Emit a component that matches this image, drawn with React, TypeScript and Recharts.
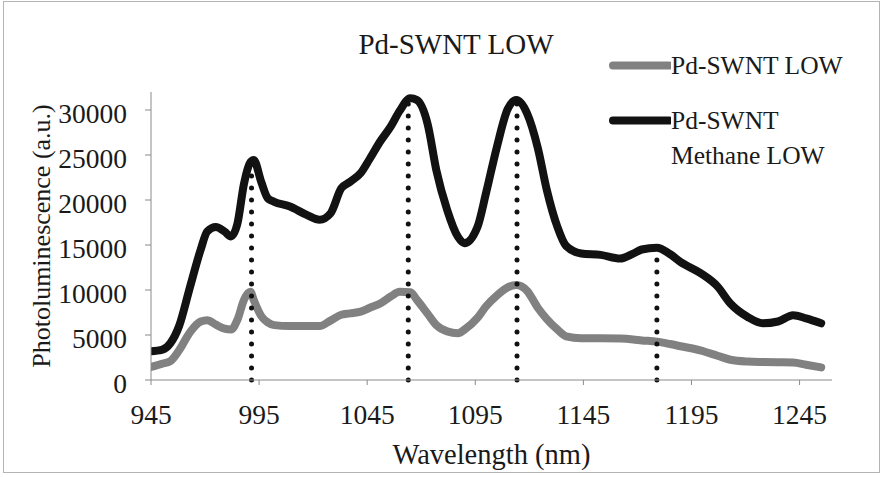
import React from "react";
import {
  LineChart,
  Line,
  XAxis,
  YAxis,
  ReferenceLine,
  Legend,
} from "recharts";

// Wavelength samples (nm) shared by both spectra
const wavelengths = [
  945, 950, 954, 958, 963, 968, 971, 975, 979, 982, 985, 988, 991, 992.5, 996,
  999, 1002, 1009, 1017, 1023, 1028, 1033, 1037, 1042, 1046, 1051, 1056, 1060,
  1065, 1068, 1073, 1077, 1082, 1087, 1090, 1096, 1100, 1105, 1110, 1114, 1119,
  1124, 1128, 1133, 1137, 1144, 1153, 1162, 1168, 1172, 1179, 1185, 1190, 1199,
  1207, 1213, 1221, 1228, 1235, 1242, 1248, 1255,
];

// Pd-SWNT LOW (grey)
const lowValues = [
  1450, 1800, 2100, 3300, 5300, 6500, 6650, 6150, 5700, 5600, 6700, 8900, 9800,
  8900, 7100, 6400, 6100, 6000, 6000, 6000, 6600, 7250, 7400, 7600, 8000, 8500,
  9300, 9800, 9750, 8900, 7350, 6100, 5400, 5200, 5600, 6900, 8200, 9400, 10300,
  10550, 9900, 8000, 6800, 5600, 4850, 4650, 4650, 4600, 4500, 4400, 4260, 4000,
  3750, 3300, 2700, 2250, 2050, 2000, 1980, 1950, 1700, 1400,
];

// Pd-SWNT Methane LOW (black)
const methaneValues = [
  3200, 3350, 4100, 6000, 10300, 14500, 16500, 17000, 16500, 15950, 17400,
  21800, 24200, 24450, 22000, 20200, 19800, 19300, 18350, 17800, 18500, 21300,
  22000, 23000, 24500, 26500, 28200, 29900, 31300, 31100, 28400, 23300, 18900,
  15900, 15200, 17000, 20800, 25900, 30100, 31100, 29600, 25700, 21200, 17000,
  14900, 14050, 13900, 13500, 14050, 14500, 14700, 14000, 13100, 11900, 10400,
  8500, 7000, 6300, 6500, 7200, 6850, 6300,
];

const xTicks = [945, 995, 1045, 1095, 1145, 1195, 1245];
const yTicks = [0, 5000, 10000, 15000, 20000, 25000, 30000];

// dotted drop lines: peak position and how high they reach
const dropX = [991.5, 1064, 1114.3, 1179];
const dropTop = [24300, 31000, 31000, 14200];

const seriesNames = ["Pd-SWNT LOW", "Pd-SWNT Methane LOW"];

const FONT = "'Liberation Serif', 'Times New Roman', serif";

const data = wavelengths.map((nm, i) => ({
  nm,
  low: lowValues[i],
  methane: methaneValues[i],
}));

function LegendBox(props: any) {
  const items = props.payload || [];
  return (
    <div style={{ fontFamily: FONT, fontSize: 25.5, color: "#1a1a1a" }}>
      {items.map((item: any, i: number) => (
        <div
          key={i}
          style={{
            display: "flex",
            alignItems: "flex-start",
            marginBottom: i === 0 ? 20 : 0,
          }}
        >
          <svg width={62} height={35} style={{ flex: "none" }}>
            <line
              x1={4}
              y1={17.5}
              x2={60}
              y2={17.5}
              stroke={item.color}
              strokeWidth={8}
              strokeLinecap="round"
            />
          </svg>
          <span style={{ lineHeight: "35px", width: 185 }}>{item.value}</span>
        </div>
      ))}
    </div>
  );
}

export default function App() {
  return (
    <div style={{ position: "absolute", left: 0, top: 0, width: 883, height: 477, background: "#fff" }}>
      <div
        style={{
          position: "absolute",
          left: 3,
          top: 1,
          width: 875,
          height: 470,
          border: "1.5px solid #b4b4b4",
        }}
      />
      <div
        style={{
          position: "absolute",
          left: 306,
          top: 24,
          width: 300,
          textAlign: "center",
          fontFamily: FONT,
          fontSize: 29,
          lineHeight: "40px",
          color: "#1a1a1a",
        }}
      >
        Pd-SWNT LOW
      </div>
      <LineChart
        width={883}
        height={477}
        data={data}
        margin={{ top: 92, right: 51, bottom: 0, left: 0 }}
        style={{ position: "absolute", left: 0, top: 0 }}
      >
        <XAxis
          dataKey="nm"
          type="number"
          domain={[945, 1260]}
          ticks={xTicks}
          allowDataOverflow
          height={97}
          stroke="#8a8a8a"
          tickSize={5}
          tickMargin={19}
          tick={{ fill: "#1a1a1a", fontFamily: FONT, fontSize: 27.5 }}
          label={{
            value: "Wavelength (nm)",
            position: "insideBottom",
            offset: 13,
            fill: "#1a1a1a",
            fontFamily: FONT,
            fontSize: 28.5,
          }}
        />
        <YAxis
          type="number"
          domain={[0, 32000]}
          ticks={yTicks}
          allowDataOverflow
          width={151}
          stroke="#8a8a8a"
          tickSize={6}
          tickMargin={18}
          tick={{ fill: "#1a1a1a", fontFamily: FONT, fontSize: 27.5, dy: 3 }}
          label={{
            value: "Photoluminescence (a.u.)",
            angle: -90,
            position: "insideLeft",
            offset: 41,
            fill: "#1a1a1a",
            fontFamily: FONT,
            fontSize: 26,
            style: { textAnchor: "middle" },
          }}
        />
        <Legend
          layout="vertical"
          align="center"
          verticalAlign="middle"
          wrapperStyle={{ left: 609, top: 48, width: 270 }}
          content={LegendBox}
        />
        <Line
          type="monotone"
          dataKey="methane"
          name={seriesNames[1]}
          stroke="#121212"
          strokeWidth={8}
          strokeLinecap="round"
          strokeLinejoin="round"
          dot={false}
          isAnimationActive={false}
        />
        <Line
          type="monotone"
          dataKey="low"
          name={seriesNames[0]}
          stroke="#818181"
          strokeWidth={8}
          strokeLinecap="round"
          strokeLinejoin="round"
          dot={false}
          isAnimationActive={false}
        />
        {dropX.map((x, i) => (
          <ReferenceLine
            key={i}
            segment={[
              { x, y: 0 },
              { x, y: dropTop[i] },
            ]}
            stroke="#111"
            strokeWidth={5}
            strokeDasharray="0 12"
            strokeLinecap="round"
          />
        ))}
      </LineChart>
    </div>
  );
}
